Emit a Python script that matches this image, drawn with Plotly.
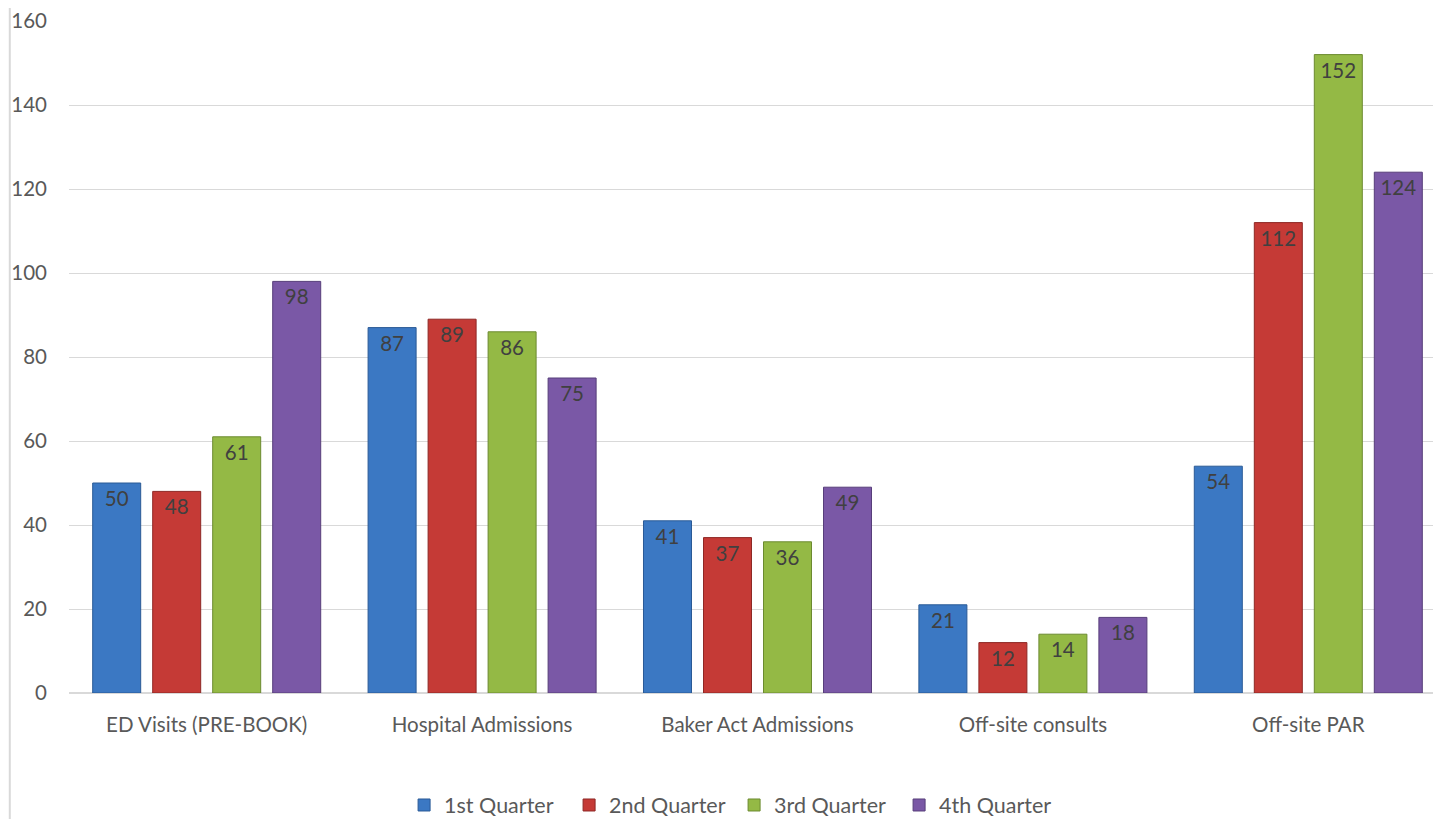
import plotly.graph_objects as go

categories = ["ED Visits (PRE-BOOK)", "Hospital Admissions", "Baker Act Admissions", "Off-site consults", "Off-site PAR"]
series_names = ["1st Quarter", "2nd Quarter", "3rd Quarter", "4th Quarter"]
q1 = [50, 87, 41, 21, 54]
q2 = [48, 89, 37, 12, 112]
q3 = [61, 86, 36, 14, 152]
q4 = [98, 75, 49, 18, 124]
y_ticks = [0, 20, 40, 60, 80, 100, 120, 140, 160]

colors = ["#3B78C3", "#C53A36", "#94B945", "#7A58A6"]
line_colors = ["#2A5A96", "#8E2825", "#6C8A30", "#573E7A"]

FONT = "Lato, Open Sans, sans-serif"
FS = 20.5

fig = go.Figure()
for name, vals, c, lc in zip(series_names, [q1, q2, q3, q4], colors, line_colors):
    fig.add_trace(go.Bar(
        x=categories, y=vals, name=name,
        marker=dict(color=c, line=dict(color=lc, width=1)),
        text=vals, textposition="inside", insidetextanchor="end",
        textfont=dict(color="#404040", size=FS, family=FONT),
        constraintext="none",
    ))

fig.update_layout(
    width=1438, height=819,
    margin=dict(l=61, r=0, t=13, b=134),
    paper_bgcolor="white", plot_bgcolor="white",
    barmode="group", bargap=0.1285, bargroupgap=0.2,
    font=dict(family=FONT, size=FS, color="#595959"),
    showlegend=True,
    legend=dict(orientation="h", x=0.483, xanchor="center", y=-0.1667, yanchor="middle",
                font=dict(size=21.5, color="#595959"), traceorder="normal",
                entrywidth=120, itemwidth=30),
    yaxis=dict(range=[0, 160], tickvals=y_ticks, showgrid=True, gridcolor="#D9D9D9", gridwidth=1,
               zeroline=True, zerolinecolor="#D9D9D9", showline=False, ticks="",
               ticklabelstandoff=21, tickfont=dict(size=FS, color="#595959")),
    xaxis=dict(showline=False, ticks="", tickfont=dict(size=FS, color="#595959"),
               ticklabelstandoff=17),
    shapes=[dict(type="line", xref="paper", yref="paper", x0=-0.043, x1=-0.043, y0=-0.3, y1=1.1,
                 line=dict(color="#D9D9D9", width=2))],
)

fig.write_html("out.html")
